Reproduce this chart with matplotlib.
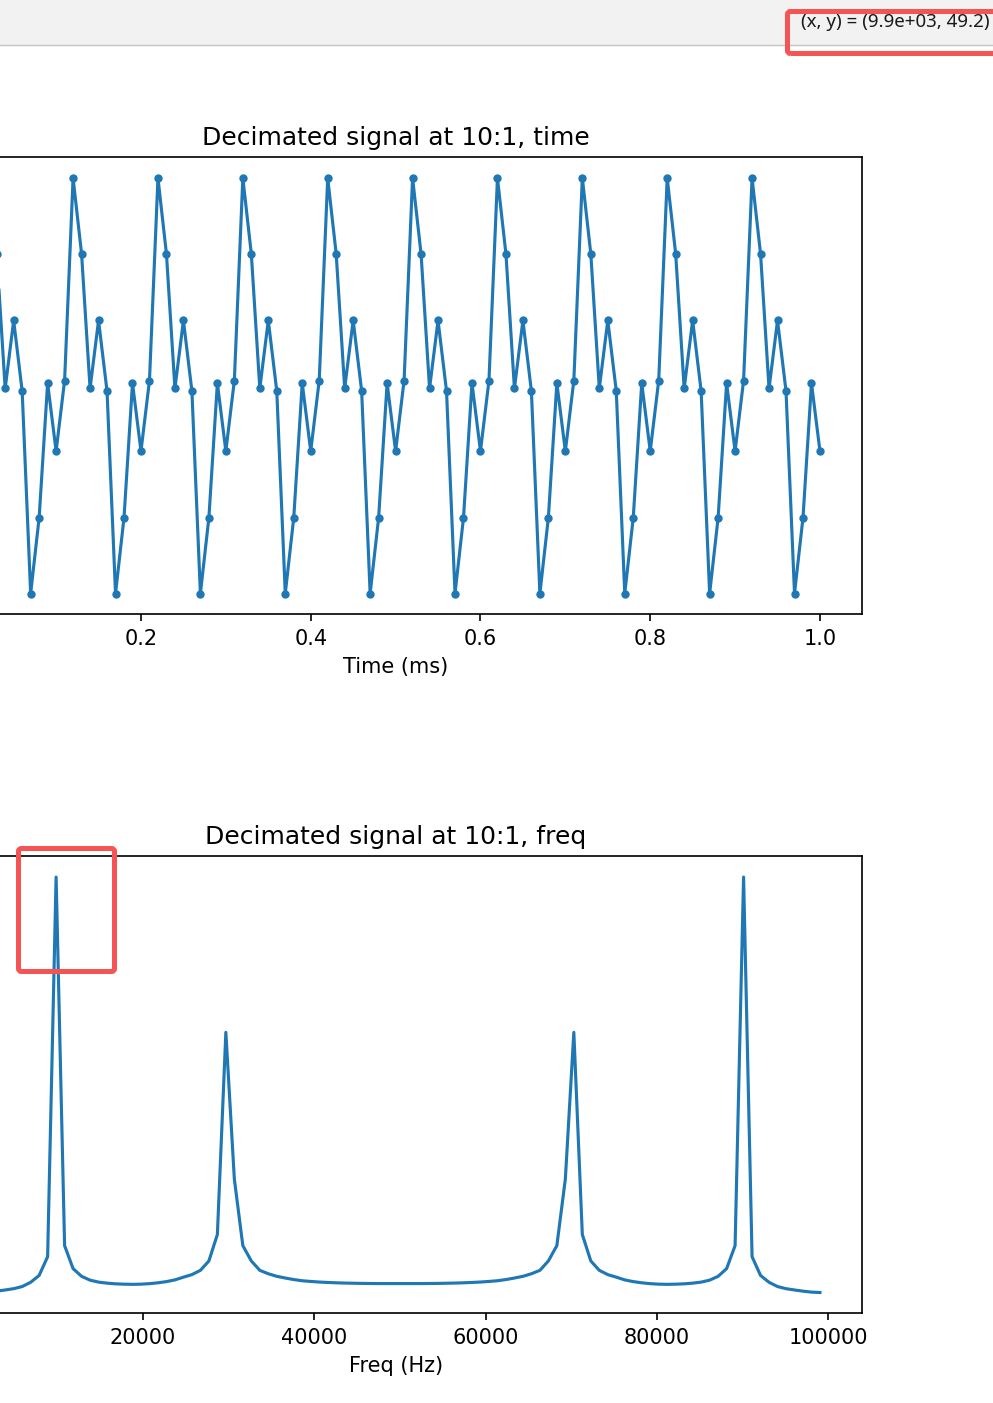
import numpy as np
import matplotlib.pyplot as plt
from matplotlib.patches import Rectangle, FancyBboxPatch
from matplotlib.lines import Line2D
from matplotlib.transforms import IdentityTransform

# decimated samples, one every 0.01 ms
sig = [-0.50, 0.04, 1.59, 1.01, -0.02, 0.50, -0.04, -1.59, -1.01, 0.02,
       -0.50, 0.04, 1.59, 1.01, -0.02, 0.50, -0.04, -1.59, -1.01, 0.02,
       -0.50, 0.04, 1.59, 1.01, -0.02, 0.50, -0.04, -1.59, -1.01, 0.02,
       -0.50, 0.04, 1.59, 1.01, -0.02, 0.50, -0.04, -1.59, -1.01, 0.02,
       -0.50, 0.04, 1.59, 1.01, -0.02, 0.50, -0.04, -1.59, -1.01, 0.02,
       -0.50, 0.04, 1.59, 1.01, -0.02, 0.50, -0.04, -1.59, -1.01, 0.02,
       -0.50, 0.04, 1.59, 1.01, -0.02, 0.50, -0.04, -1.59, -1.01, 0.02,
       -0.50, 0.04, 1.59, 1.01, -0.02, 0.50, -0.04, -1.59, -1.01, 0.02,
       -0.50, 0.04, 1.59, 1.01, -0.02, 0.50, -0.04, -1.59, -1.01, 0.02,
       -0.50, 0.04, 1.59, 1.01, -0.02, 0.50, -0.04, -1.59, -1.01, 0.02,
       -0.50]
t = np.linspace(0, 1.0, len(sig))  # ms

# spectrum magnitude per FFT bin
spec = [0.50, 0.50, 0.55, 0.66, 0.80, 0.95, 1.20, 1.70, 2.50, 4.70,
        49.20, 6.00, 3.30, 2.40, 1.95, 1.72, 1.60, 1.52, 1.48, 1.46,
        1.48, 1.54, 1.64, 1.78, 1.98, 2.30, 2.60, 3.10, 4.20, 7.30,
        31.00, 13.80, 6.00, 4.20, 3.10, 2.70, 2.40, 2.20, 2.02, 1.88,
        1.80, 1.73, 1.68, 1.64, 1.61, 1.59, 1.57, 1.56, 1.55, 1.55,
        1.55,
        1.55, 1.55, 1.55, 1.56, 1.57, 1.59, 1.61, 1.64, 1.68, 1.73,
        1.80, 1.88, 2.02, 2.20, 2.40, 2.70, 3.10, 4.20, 6.00, 13.80,
        31.00, 7.30, 4.20, 3.10, 2.60, 2.30, 1.98, 1.78, 1.64, 1.54,
        1.48, 1.46, 1.48, 1.52, 1.60, 1.72, 1.95, 2.40, 3.30, 6.00,
        49.20, 4.70, 2.50, 1.70, 1.20, 0.95, 0.80, 0.66, 0.55, 0.50]
fs = 100000  # Hz after decimation
freq = np.arange(len(spec)) * fs / len(spec)

W, H, DPI = 993, 1403, 150
fig = plt.figure(figsize=(W / DPI, H / DPI), dpi=DPI)

# axes are wider than the window: left part is cut off in the screenshot
left = -71.2 / W
width = 933.6 / W
ax1 = fig.add_axes([left, (H - 614.3) / H, width, 457 / H])
ax1.plot(t, sig, '.-')
ax1.set_title('Decimated signal at 10:1, time')
ax1.set_xlabel('Time (ms)')

ax2 = fig.add_axes([left, (H - 1313.3) / H, width, 457 / H])
ax2.plot(freq, spec)
ax2.set_title('Decimated signal at 10:1, freq')
ax2.set_xlabel('Freq (Hz)')

# window toolbar strip with the cursor readout
px = IdentityTransform()
fig.add_artist(Rectangle((0, H - 44.5), W, 44.5, transform=px,
                         facecolor='#f2f2f2', edgecolor='none', zorder=5))
fig.add_artist(Line2D([0, W], [H - 45, H - 45], transform=px,
                      color='#c4c4c4', lw=0.7, zorder=6))
fig.text(990, H - 22, '(x, y) = (9.9e+03, 49.2)', transform=px,
         ha='right', va='center', fontsize=9, family='Noto Sans',
         color='#1a1a1a', zorder=7)

# red highlight boxes
red = '#f65454'
fig.add_artist(FancyBboxPatch((787.5, H - 53.5), 240, 42, transform=px,
                              boxstyle='round,pad=0,rounding_size=3',
                              fill=False, edgecolor=red, lw=2.4, zorder=10))
fig.add_artist(FancyBboxPatch((18.5, H - 971.5), 96, 123, transform=px,
                              boxstyle='round,pad=0,rounding_size=3',
                              fill=False, edgecolor=red, lw=2.4, zorder=10))

fig.savefig('out.png', dpi=DPI)
